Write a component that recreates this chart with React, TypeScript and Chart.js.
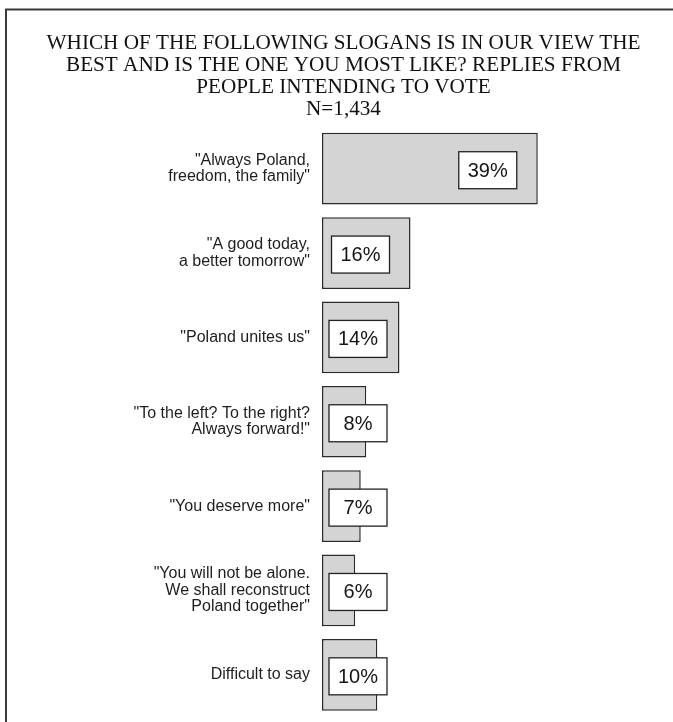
import { useEffect, useRef } from 'react';
import { Chart, registerables } from 'chart.js';

Chart.register(...registerables);

const titleLines = [
  'WHICH OF THE FOLLOWING SLOGANS IS IN OUR VIEW THE',
  'BEST AND IS THE ONE YOU MOST LIKE? REPLIES FROM',
  'PEOPLE INTENDING TO VOTE',
  'N=1,434',
];

const categories = [
  ['"Always Poland,', 'freedom, the family"'],
  ['"A good today,', 'a better tomorrow"'],
  ['"Poland unites us"'],
  ['"To the left? To the right?', 'Always forward!"'],
  ['"You deserve more"'],
  ['"You will not be alone.', 'We shall reconstruct', 'Poland together"'],
  ['Difficult to say'],
];

const values = [39, 16, 14, 8, 7, 6, 10];
const valueLabels = values.map((v) => `${v}%`);

const SANS = '"Liberation Sans", Arial, sans-serif';
const SERIF = '"Liberation Serif", "Times New Roman", serif';

const framePlugin = {
  id: 'frame',
  beforeDraw(chart: any) {
    const ctx = chart.ctx;
    ctx.save();
    ctx.fillStyle = '#ffffff';
    ctx.fillRect(0, 0, chart.width, chart.height);
    ctx.strokeStyle = '#3a3a3a';
    ctx.lineWidth = 2;
    ctx.beginPath();
    ctx.moveTo(6, chart.height);
    ctx.lineTo(6, 9.5);
    ctx.lineTo(chart.width, 9.5);
    ctx.stroke();
    ctx.restore();
  },
};

const valueBoxPlugin = {
  id: 'valueBoxes',
  afterDatasetsDraw(chart: any) {
    const meta = chart.getDatasetMeta(0);
    const ctx = chart.ctx;
    const left = chart.chartArea.left;
    meta.data.forEach((bar: any, i: number) => {
      const { x, y } = bar.getProps(['x', 'y'], true);
      const w = 58;
      const h = 37;
      const cx = Math.max(x - 50, left + 36);
      const cy = y + 1.5;
      ctx.save();
      ctx.fillStyle = '#ffffff';
      ctx.fillRect(cx - w / 2, cy - h / 2, w, h);
      ctx.strokeStyle = '#222222';
      ctx.lineWidth = 1.3;
      ctx.strokeRect(cx - w / 2, cy - h / 2, w, h);
      ctx.fillStyle = '#151515';
      ctx.font = `20px ${SANS}`;
      ctx.textAlign = 'center';
      ctx.textBaseline = 'middle';
      ctx.fillText(valueLabels[i], cx, cy + 1);
      ctx.restore();
    });
  },
};

export default function App() {
  const canvasRef = useRef<HTMLCanvasElement | null>(null);

  useEffect(() => {
    document.body.style.margin = '0';
    const canvas = canvasRef.current;
    if (!canvas) return;
    const chart = new Chart(canvas, {
      type: 'bar',
      data: {
        labels: categories,
        datasets: [
          {
            data: values,
            backgroundColor: '#d4d4d4',
            borderColor: '#2a2a2a',
            borderWidth: 1.5,
            borderSkipped: false,
            barPercentage: 0.85,
            categoryPercentage: 1,
          },
        ],
      },
      options: {
        indexAxis: 'y',
        responsive: false,
        animation: false,
        devicePixelRatio: 1,
        layout: { padding: { left: 22, right: 8, top: 10, bottom: 5 } },
        plugins: {
          legend: { display: false },
          tooltip: { enabled: false },
          title: {
            display: true,
            text: titleLines,
            color: '#111111',
            font: { family: SERIF, size: 21.2, weight: 'normal', lineHeight: 1.05 },
            padding: { top: 22, bottom: 5.5 },
          },
        },
        scales: {
          x: { display: false, min: 0, max: 62 },
          y: {
            type: 'category',
            grid: { display: false, drawTicks: false },
            border: { display: false },
            ticks: {
              color: '#1e1e1e',
              padding: 12,
              font: { family: SANS, size: 16, lineHeight: 1.03 },
            },
            afterFit(scale: any) {
              scale.width = 300;
              scale.paddingTop = 0;
              scale.paddingBottom = 0;
            },
          },
        },
      },
      plugins: [framePlugin, valueBoxPlugin],
    } as any);
    return () => chart.destroy();
  }, []);

  return (
    <div style={{ position: 'absolute', left: 0, top: 0, width: 673, height: 722 }}>
      <canvas ref={canvasRef} width={673} height={722} />
    </div>
  );
}
